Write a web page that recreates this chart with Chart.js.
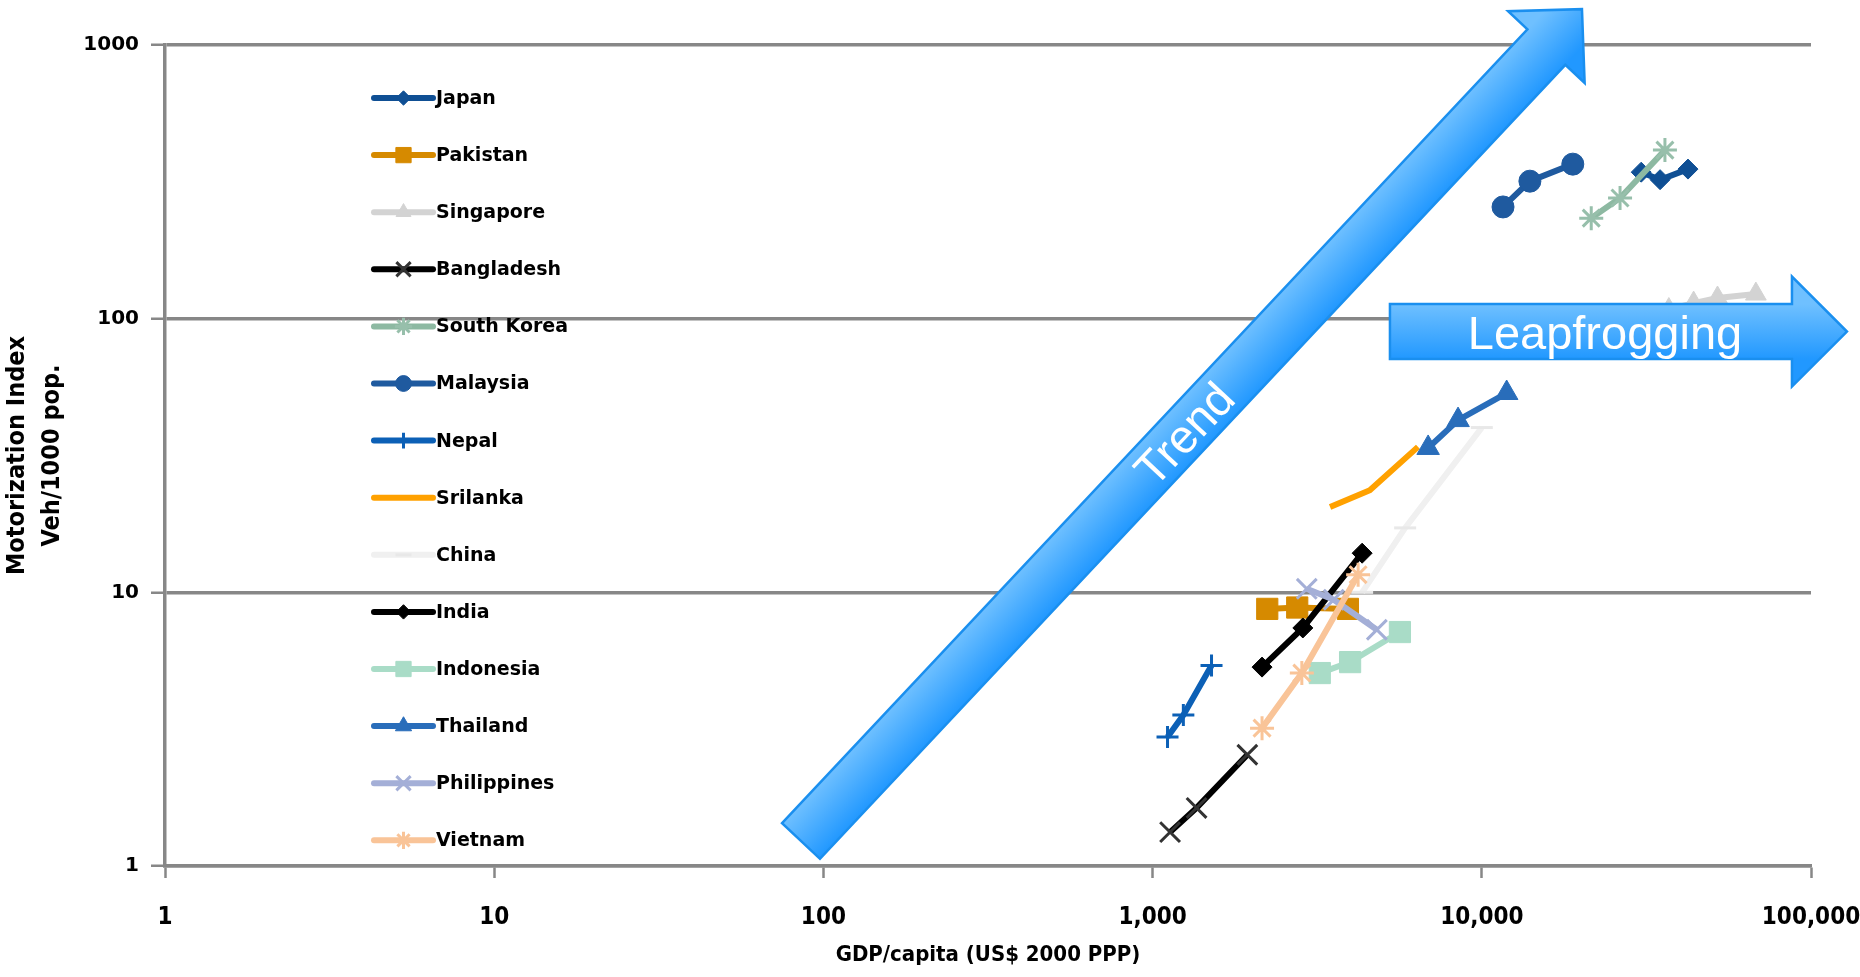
<!DOCTYPE html>
<html>
<head>
<meta charset="utf-8">
<title>Motorization Index vs GDP per capita</title>
<script src="https://cdn.jsdelivr.net/npm/chart.js@4.4.1/dist/chart.umd.min.js"></script>
<style>
  html, body { margin: 0; padding: 0; background: #fff; }
  canvas { display: block; }
</style>
</head>
<body>
<canvas id="myChart" width="1860" height="977"></canvas>
<script>
'use strict';

// Data
const countries = ['Japan', 'Pakistan', 'Singapore', 'Bangladesh', 'South Korea', 'Malaysia', 'Nepal',
  'Srilanka', 'China', 'India', 'Indonesia', 'Thailand', 'Philippines', 'Vietnam'];

const xTicks = [1, 10, 100, 1000, 10000, 100000];
const yTicks = [1, 10, 100, 1000];

const xTitle = 'GDP/capita (US$ 2000 PPP)';
const yTitle = ['Motorization Index', 'Veh/1000 pop.'];

const japanGdp = [30500, 34800, 42300];
const japanVeh = [343, 322, 352];
const pakistanGdp = [2230, 2750, 3920];
const pakistanVeh = [8.7, 8.8, 8.7];
const singaporeGdp = [37000, 44000, 52000, 68000];
const singaporeVeh = [108, 114, 119, 123];
const bangladeshGdp = [1130, 1360, 1940];
const bangladeshVeh = [1.33, 1.63, 2.55];
const koreaGdp = [21500, 26300, 36000];
const koreaVeh = [233, 276, 413];
const malaysiaGdp = [11600, 14000, 18900];
const malaysiaVeh = [256, 318, 367];
const nepalGdp = [1110, 1240, 1510];
const nepalVeh = [2.96, 3.56, 5.4];
const srilankaGdp = [3460, 4570, 6400];
const srilankaVeh = [20.5, 23.6, 34];
const chinaGdp = [4330, 5850, 10000];
const chinaVeh = [10, 17.2, 40];
const indiaGdp = [2150, 2860, 4330];
const indiaVeh = [5.33, 7.41, 13.9];
const indonesiaGdp = [3220, 3980, 5640];
const indonesiaVeh = [5.07, 5.56, 7.16];
const thailandGdp = [6870, 8470, 11900];
const thailandVeh = [33.7, 42.6, 53.5];
const philippinesGdp = [2940, 3550, 4800];
const philippinesVeh = [10.3, 9.4, 7.3];
const vietnamGdp = [2150, 2840, 4210];
const vietnamVeh = [3.19, 5.07, 11.6];

const gdpList = [japanGdp, pakistanGdp, singaporeGdp, bangladeshGdp, koreaGdp, malaysiaGdp, nepalGdp,
  srilankaGdp, chinaGdp, indiaGdp, indonesiaGdp, thailandGdp, philippinesGdp, vietnamGdp];
const vehList = [japanVeh, pakistanVeh, singaporeVeh, bangladeshVeh, koreaVeh, malaysiaVeh, nepalVeh,
  srilankaVeh, chinaVeh, indiaVeh, indonesiaVeh, thailandVeh, philippinesVeh, vietnamVeh];

// Looks
const lineColors = ['#0F4F94', '#D68A00', '#D3D3D3', '#000000', '#8DB9A2', '#1F5A9F', '#0C60B6',
  '#FFA100', '#F0F0F0', '#000000', '#A9DCC7', '#296DBA', '#A4AFD7', '#F9C498'];
const markerColors = ['#0F4F94', '#D68A00', '#D3D3D3', '#333333', '#97BFAB', '#1F5A9F', '#0C60B6',
  '#FFA100', '#E8E8E8', '#000000', '#A9DCC7', '#296DBA', '#A4AFD7', '#F9C498'];
const pointStyles = ['rectRot', 'rect', 'triangle', 'crossRot', 'star', 'circle', 'cross',
  'circle', 'line', 'rectRot', 'rect', 'triangle', 'crossRot', 'star'];
const pointSizes = [10, 15, 12, 14, 12, 11, 11, 0, 11, 10, 15, 13, 14, 12];

const gridGray = '#878787';
const openStyles = ['cross', 'crossRot', 'star', 'line'];
const narrow = '"DejaVu Sans Condensed", "DejaVu Sans", sans-serif';

function datasets() {
  return countries.map((name, i) => ({
    label: name,
    data: gdpList[i].map((g, j) => ({ x: g, y: vehList[i][j] })),
    showLine: true,
    borderColor: lineColors[i],
    backgroundColor: markerColors[i],
    borderWidth: 6,
    pointStyle: pointStyles[i],
    pointRadius: pointSizes[i],
    pointBackgroundColor: markerColors[i],
    pointBorderColor: markerColors[i],
    pointBorderWidth: openStyles.includes(pointStyles[i]) ? 3 : 1,
    tension: 0,
    order: countries.length - i
  }));
}

// Arrow shape in chart coords
function drawArrow(ctx, p0, p1, shaftW, headW, headL, label, at, size) {
  const len = Math.hypot(p1.x - p0.x, p1.y - p0.y);
  const ang = Math.atan2(p1.y - p0.y, p1.x - p0.x);
  const b = len - headL;
  ctx.save();
  ctx.translate(p0.x, p0.y);
  ctx.rotate(ang);
  ctx.beginPath();
  ctx.moveTo(0, -shaftW / 2);
  ctx.lineTo(b, -shaftW / 2);
  ctx.lineTo(b, -headW / 2);
  ctx.lineTo(len, 0);
  ctx.lineTo(b, headW / 2);
  ctx.lineTo(b, shaftW / 2);
  ctx.lineTo(0, shaftW / 2);
  ctx.closePath();
  const grad = ctx.createLinearGradient(0, -shaftW / 2, 0, shaftW / 2);
  grad.addColorStop(0, '#6FC0FF');
  grad.addColorStop(1, '#2198FF');
  ctx.fillStyle = grad;
  ctx.fill();
  ctx.strokeStyle = '#1A8FEF';
  ctx.lineWidth = 2.5;
  ctx.stroke();

  ctx.fillStyle = '#FFFFFF';
  ctx.font = size + 'px "Liberation Sans", Arial, sans-serif';
  ctx.textAlign = 'center';
  ctx.textBaseline = 'alphabetic';
  ctx.fillText(label, at(b), size * 0.36);
  ctx.restore();
}

const arrowPlugin = {
  id: 'arrows',
  afterDatasetsDraw(chart) {
    const ctx = chart.ctx;
    const xs = chart.scales.x;
    const ys = chart.scales.y;
    const pt = (x, y) => ({ x: xs.getPixelForValue(x), y: ys.getPixelForValue(y) });

    drawArrow(ctx, pt(85.5, 1.234), pt(20150, 1352), 52, 105, 52, 'Trend', b => (b + 52) * 0.49, 47);
    drawArrow(ctx, pt(5260, 89.7), pt(128600, 89.7), 55, 110, 55, 'Leapfrogging', b => b / 2 + 14, 47);
  }
};

// Legend inside the plot, on the left
const legendPlugin = {
  id: 'sideLegend',
  afterDraw(chart) {
    const ctx = chart.ctx;
    const area = chart.chartArea;
    const x0 = area.left + 209;
    const x1 = area.left + 268;
    const top = area.top + 53;
    const step = 57.1;

    chart.data.datasets.forEach((ds, i) => {
      const y = top + i * step;
      ctx.save();
      ctx.strokeStyle = ds.borderColor;
      ctx.lineWidth = 6;
      ctx.lineCap = 'round';
      ctx.beginPath();
      ctx.moveTo(x0, y);
      ctx.lineTo(x1, y);
      ctx.stroke();

      if (ds.pointRadius > 0 && Chart.helpers && Chart.helpers.drawPoint) {
        ctx.fillStyle = ds.pointBackgroundColor;
        ctx.strokeStyle = ds.pointBorderColor;
        ctx.lineWidth = ds.pointBorderWidth;
        ctx.lineCap = 'butt';
        Chart.helpers.drawPoint(ctx, {
          pointStyle: ds.pointStyle,
          radius: ds.pointRadius * 0.72,
          borderWidth: ds.pointBorderWidth,
          rotation: 0
        }, (x0 + x1) / 2, y);
      }

      ctx.fillStyle = '#000000';
      ctx.font = 'bold 19px "DejaVu Sans", sans-serif';
      ctx.textAlign = 'left';
      ctx.textBaseline = 'middle';
      ctx.fillText(ds.label, x1 + 3, y + 1);
      ctx.restore();
    });
  }
};

const ctx = document.getElementById('myChart').getContext('2d');
const myChart = new Chart(ctx, {
  type: 'scatter',
  data: { datasets: datasets() },
  plugins: [arrowPlugin, legendPlugin],
  options: {
    responsive: false,
    animation: false,
    devicePixelRatio: 1,
    layout: { padding: { top: 45, right: 49, left: 0, bottom: 0 } },
    plugins: {
      legend: { display: false },
      tooltip: { enabled: false }
    },
    scales: {
      x: {
        type: 'logarithmic',
        min: 1,
        max: 100000,
        afterBuildTicks: s => { s.ticks = xTicks.map(v => ({ value: v })); },
        afterFit: s => { s.height = 111; s.paddingLeft = 0; s.paddingRight = 0; },
        ticks: {
          color: '#000',
          font: { family: narrow, weight: 'bold', size: 24 },
          padding: 25,
          maxRotation: 0,
          autoSkip: false,
          callback: v => Number(v).toLocaleString('en-US')
        },
        grid: { drawOnChartArea: false, tickLength: 12, tickWidth: 2.5, tickColor: gridGray },
        border: { color: gridGray, width: 3.5 },
        title: {
          display: true,
          text: xTitle,
          color: '#000',
          font: { family: narrow, weight: 'bold', size: 22 },
          padding: { top: 0, bottom: 9 }
        }
      },
      y: {
        type: 'logarithmic',
        min: 1,
        max: 1000,
        afterBuildTicks: s => { s.ticks = yTicks.map(v => ({ value: v })); },
        afterFit: s => { s.width = 165; },
        ticks: {
          color: '#000',
          font: { family: '"DejaVu Sans", sans-serif', weight: 'bold', size: 20 },
          padding: 12,
          callback: v => String(v)
        },
        grid: { color: gridGray, lineWidth: 3.5, tickLength: 14, tickWidth: 2.5, tickColor: gridGray },
        border: { color: gridGray, width: 3.5 },
        title: {
          display: true,
          text: yTitle,
          color: '#000',
          font: { family: narrow, weight: 'bold', size: 25, lineHeight: 1.4 },
          padding: { top: 0, bottom: 0 }
        }
      }
    }
  }
});
</script>
</body>
</html>
